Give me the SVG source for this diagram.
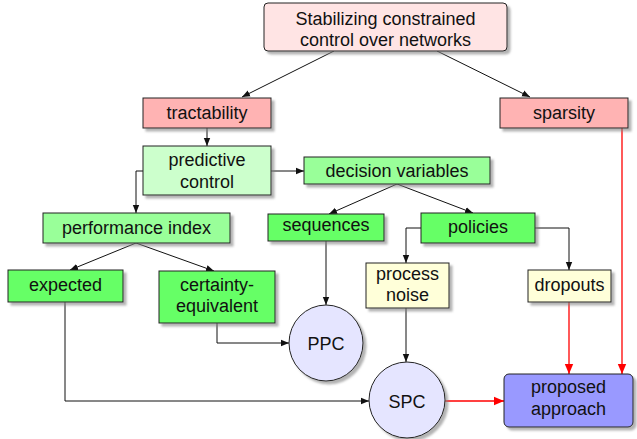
<svg xmlns="http://www.w3.org/2000/svg" width="637" height="439" viewBox="0 0 637 439">
<defs>
<filter id="sh" x="-10%" y="-10%" width="130%" height="140%">
<feGaussianBlur in="SourceAlpha" stdDeviation="1"/>
<feOffset dx="3" dy="3" result="b"/>
<feFlood flood-color="#808080" flood-opacity="0.6"/>
<feComposite in2="b" operator="in"/>
<feMerge><feMergeNode/><feMergeNode in="SourceGraphic"/></feMerge>
</filter>
<marker id="ah" markerUnits="userSpaceOnUse" markerWidth="8" markerHeight="8" viewBox="0 0 8 8" refX="8" refY="4" orient="auto">
<path d="M0,0.8 L8,4 L0,7.2 Z" fill="#111"/>
</marker>
<marker id="ahr" markerUnits="userSpaceOnUse" markerWidth="10" markerHeight="10" viewBox="0 0 10 10" refX="10" refY="5" orient="auto">
<path d="M0,0.8 L10,5 L0,9.2 Z" fill="#ff0000"/>
</marker>
</defs>
<style>
text{font-family:"Liberation Sans",Arial,sans-serif;font-size:18px;fill:#111;text-anchor:middle}
.n{stroke:#222;stroke-width:1;filter:url(#sh)}
.c{fill:none;stroke:#111;stroke-width:1;marker-end:url(#ah)}
.r{fill:none;stroke:#ff0000;stroke-width:1.3;marker-end:url(#ahr)}
</style>
<rect width="637" height="439" fill="#ffffff"/>
<g id="connectors">
<path class="c" d="M334,51 L242,97"/>
<path class="c" d="M437,51 L530,97"/>
<path class="c" d="M207,128 L207,146"/>
<path class="c" d="M271,171 L304,171"/>
<path class="c" d="M143,171 L136,171 L136,213"/>
<path class="c" d="M397,184 L329,214"/>
<path class="c" d="M397,184 L473,213"/>
<path class="c" d="M136,243 L70,270"/>
<path class="c" d="M136,243 L214,271"/>
<path class="c" d="M326,241 L326,305"/>
<path class="c" d="M421,228 L406,228 L406,263"/>
<path class="c" d="M535,228 L569,228 L569,270"/>
<path class="c" d="M217,323 L217,343 L289,343"/>
<path class="c" d="M65,302 L65,401 L369,401"/>
<path class="c" d="M406,308 L406,362"/>
<path class="r" d="M445,401 L504,401"/>
<path class="r" d="M569,302 L569,374"/>
<path class="r" d="M622,128 L622,374"/>
</g>
<g id="top"><rect class="n" x="264" y="3" width="243" height="48" rx="4" fill="#ffe4e4"/><text x="385.5" y="25">Stabilizing constrained</text><text x="385.5" y="46">control over networks</text></g>
<g id="tractability"><rect class="n" x="143" y="98" width="128" height="30" fill="#ffb3b3"/><text x="207" y="119">tractability</text></g>
<g id="sparsity"><rect class="n" x="500" y="98" width="128" height="30" fill="#ffb3b3"/><text x="564" y="119">sparsity</text></g>
<g id="predictive"><rect class="n" x="143" y="146" width="128" height="49" fill="#ccffcc"/><text x="207" y="166">predictive</text><text x="207" y="188">control</text></g>
<g id="decision"><rect class="n" x="304" y="157" width="186" height="27" fill="#99ff99"/><text x="397" y="177">decision variables</text></g>
<g id="performance"><rect class="n" x="43" y="213" width="187" height="30" fill="#99ff99"/><text x="136.5" y="234">performance index</text></g>
<g id="sequences"><rect class="n" x="268" y="214" width="116" height="27" fill="#66ff66"/><text x="326" y="231">sequences</text></g>
<g id="policies"><rect class="n" x="421" y="213" width="114" height="30" fill="#66ff66"/><text x="478" y="233">policies</text></g>
<g id="expected"><rect class="n" x="8" y="270" width="115" height="32" fill="#66ff66"/><text x="65.5" y="291">expected</text></g>
<g id="certainty"><rect class="n" x="159" y="271" width="116" height="52" fill="#66ff66"/><text x="217" y="291">certainty-</text><text x="217" y="312">equivalent</text></g>
<g id="processnoise"><rect class="n" x="366" y="263" width="83" height="45" fill="#ffffd9"/><text x="407.5" y="280">process</text><text x="407.5" y="301">noise</text></g>
<g id="dropouts"><rect class="n" x="528" y="270" width="83" height="32" fill="#ffffd9"/><text x="569.5" y="291">dropouts</text></g>
<g id="PPC"><ellipse class="n" cx="326" cy="343" rx="37" ry="38" fill="#e5e5ff"/><text x="326" y="350">PPC</text></g>
<g id="SPC"><ellipse class="n" cx="407" cy="400" rx="38" ry="38" fill="#e5e5ff"/><text x="407" y="408">SPC</text></g>
<g id="proposed"><rect class="n" x="504" y="374" width="129" height="53" rx="5" fill="#9999ff"/><text x="568.5" y="393">proposed</text><text x="568.5" y="415">approach</text></g>
</svg>
